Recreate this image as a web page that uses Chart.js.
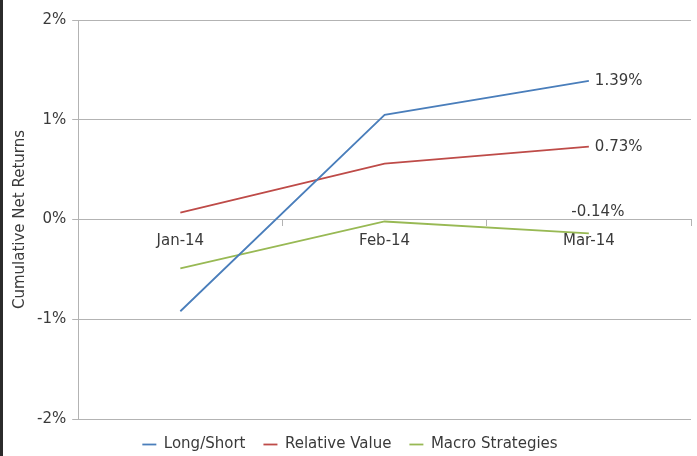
<!DOCTYPE html>
<html>
<head>
<meta charset="utf-8">
<script src="https://cdn.jsdelivr.net/npm/chart.js@4.4.0/dist/chart.umd.min.js"></script>
<style>
  html, body { margin: 0; padding: 0; background: #fff; }
  #wrap { width: 694px; height: 456px; border-left: 3px solid #2b2b2b; }
</style>
</head>
<body>
<div id="wrap"><canvas id="myChart" width="694" height="456"></canvas></div>
<script>
const months = ['Jan-14', 'Feb-14', 'Mar-14'];
const longShort = [-0.92, 1.05, 1.39];
const relativeValue = [0.07, 0.56, 0.73];
const macroStrategies = [-0.49, -0.02, -0.14];
const yTicks = [-2, -1, 0, 1, 2];

const textColor = '#3a3a3a';
const gridColor = '#b3b3b3';
const fontFamily = '"DejaVu Sans", sans-serif';

// value label at the last point of each line
const endLabels = {
  id: 'endLabels',
  afterDatasetsDraw(chart) {
    const ctx = chart.ctx;
    ctx.save();
    ctx.font = '15px ' + fontFamily;
    ctx.fillStyle = textColor;
    chart.data.datasets.forEach((ds, i) => {
      const pts = chart.getDatasetMeta(i).data;
      const p = pts[pts.length - 1];
      const v = ds.data[ds.data.length - 1];
      const txt = v.toFixed(2) + '%';
      if (v < 0) {
        ctx.textAlign = 'center';
        ctx.textBaseline = 'bottom';
        ctx.fillText(txt, p.x + 9, p.y - 14);
      } else {
        ctx.textAlign = 'left';
        ctx.textBaseline = 'middle';
        ctx.fillText(txt, p.x + 6, p.y);
      }
    });
    ctx.restore();
  }
};

const ctx = document.getElementById('myChart');

const myChart = new Chart(ctx, {
  type: 'line',
  data: {
    labels: months,
    datasets: [{
      label: 'Long/Short',
      data: longShort,
      borderColor: '#4a7ebb',
      backgroundColor: '#4a7ebb',
      borderWidth: 1.8,
      pointRadius: 0,
      fill: false,
    }, {
      label: 'Relative Value',
      data: relativeValue,
      borderColor: '#be4b48',
      backgroundColor: '#be4b48',
      borderWidth: 1.8,
      pointRadius: 0,
      fill: false,
    }, {
      label: 'Macro Strategies',
      data: macroStrategies,
      borderColor: '#98b954',
      backgroundColor: '#98b954',
      borderWidth: 1.8,
      pointRadius: 0,
      fill: false,
    }]
  },
  options: {
    responsive: false,
    animation: false,
    layout: { padding: { top: 20, right: 6, bottom: -6, left: 6 } },
    plugins: {
      tooltip: { enabled: false },
      legend: {
        position: 'bottom',
        labels: {
          usePointStyle: true,
          pointStyle: 'line',
          pointStyleWidth: 14,
          boxWidth: 14,
          boxHeight: 10,
          padding: 18,
          color: textColor,
          font: { family: fontFamily, size: 15 }
        }
      }
    },
    scales: {
      x: {
        position: { y: 0 },
        offset: true,
        grid: {
          drawOnChartArea: false,
          drawTicks: true,
          tickLength: 6,
          color: gridColor,
          offset: true
        },
        border: { display: true, color: gridColor },
        ticks: {
          color: textColor,
          padding: 7,
          font: { family: fontFamily, size: 15 }
        }
      },
      y: {
        min: -2,
        max: 2,
        afterBuildTicks(axis) {
          axis.ticks = yTicks.map(v => ({ value: v }));
        },
        grid: {
          color: gridColor,
          tickLength: 6
        },
        border: { display: true, color: gridColor },
        ticks: {
          color: textColor,
          padding: 6,
          font: { family: fontFamily, size: 15 },
          callback: v => v + '%'
        },
        title: {
          display: true,
          text: 'Cumulative Net Returns',
          color: textColor,
          padding: 2,
          font: { family: fontFamily, size: 15 }
        }
      }
    }
  },
  plugins: [endLabels]
});
</script>
</body>
</html>
